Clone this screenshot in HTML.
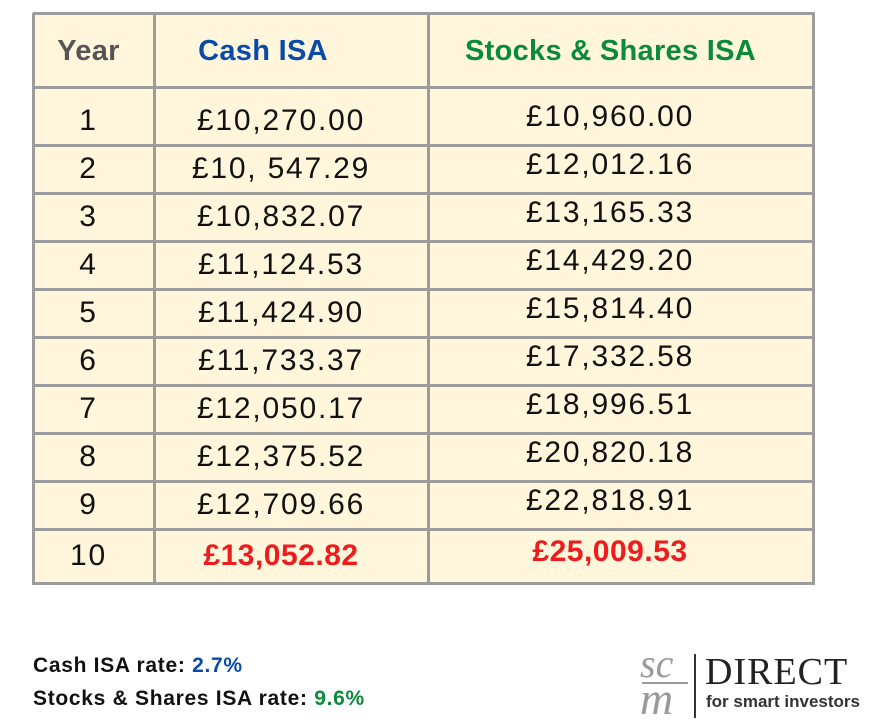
<!DOCTYPE html>
<html><head><meta charset="utf-8"><style>
body{margin:0;width:893px;height:726px;background:#fff;position:relative;overflow:hidden;font-family:"Liberation Sans",sans-serif}
.t{position:absolute;left:33px;top:13px;width:780px;height:570px;background:#fff6dc}
.h{position:absolute;background:#9c9c9c;height:3px;left:33px;width:782px}
.v{position:absolute;background:#9c9c9c;width:3px;top:13px;height:572px}
.c{position:absolute;text-align:center;font-size:30px;letter-spacing:1.8px;color:#111;line-height:30px}
.red{color:#ee1c1c;font-weight:bold;letter-spacing:0.5px}
.hd{position:absolute;font-weight:bold;font-size:29px;text-align:center;line-height:30px;top:36px;letter-spacing:0.3px}
.f{position:absolute;left:33px;font-size:21px;letter-spacing:0.7px;font-weight:bold;color:#111}
</style></head><body>
<div class="t"></div>
<div id="lines"></div>
<div class="hd" style="left:33px;width:111px;color:#555">Year</div>
<div class="hd" style="left:154px;width:218px;color:#0a4aa8">Cash ISA</div>
<div class="hd" style="left:428px;width:365px;color:#0a8a3a">Stocks &amp; Shares ISA</div>
<div id="rows"></div>
<div class="f" style="top:654px">Cash ISA rate: <span style="color:#0a4aa8">2.7%</span></div>
<div class="f" style="top:687px">Stocks &amp; Shares ISA rate: <span style="color:#0a8a3a">9.6%</span></div>
<div style="position:absolute;left:638px;top:650px;width:240px;height:72px">
<div style="position:absolute;left:2px;top:-10px;font-family:'Liberation Serif',serif;font-style:italic;font-size:40px;color:#999">sc</div>
<div style="position:absolute;left:4px;top:32px;width:46px;height:2px;background:#999"></div>
<div style="position:absolute;left:2px;top:22px;font-family:'Liberation Serif',serif;font-style:italic;font-size:46px;color:#999">m</div>
<div style="position:absolute;left:56px;top:4px;width:2px;height:64px;background:#333"></div>
<div style="position:absolute;left:67px;top:2px;font-family:'Liberation Serif',serif;font-size:38px;color:#222;letter-spacing:1px;line-height:40px">DIRECT</div>
<div style="position:absolute;left:68px;top:42px;font-size:17px;font-weight:bold;color:#333">for smart investors</div>
</div>
<script>
const years=["1","2","3","4","5","6","7","8","9","10"];
const cash=["£10,270.00","£10, 547.29","£10,832.07","£11,124.53","£11,424.90","£11,733.37","£12,050.17","£12,375.52","£12,709.66","£13,052.82"];
const stocks=["£10,960.00","£12,012.16","£13,165.33","£14,429.20","£15,814.40","£17,332.58","£18,996.51","£20,820.18","£22,818.91","£25,009.53"];
const hl=[12,86,144,192,240,288,336,384,432,480,528,582];
const L=document.getElementById('lines');
hl.forEach(y=>{const d=document.createElement('div');d.className='h';d.style.top=y+'px';

L.appendChild(d);});
[32,153,427,812].forEach(x=>{const d=document.createElement('div');d.className='v';d.style.left=x+'px';

L.appendChild(d);});
const R=document.getElementById('rows');
years.forEach((y,i)=>{
 const top=(hl[i+1]+hl[i+2])/2-14+(i==0?5:0);
 const cols=[[33,111,y,'year-cell'],[154,254,cash[i],'cash-isa-cell'],[428,364,stocks[i],'stocks-isa-cell']];
 cols.forEach((c,j)=>{const d=document.createElement('div');d.className='c'+(i==9&&j>0?' red':'');
 d.style.left=c[0]+'px';d.style.width=c[1]+'px';d.style.top=(top-(j==2?4:0))+'px';d.textContent=c[2];
 
 R.appendChild(d);});
});
</script>
</body></html>
